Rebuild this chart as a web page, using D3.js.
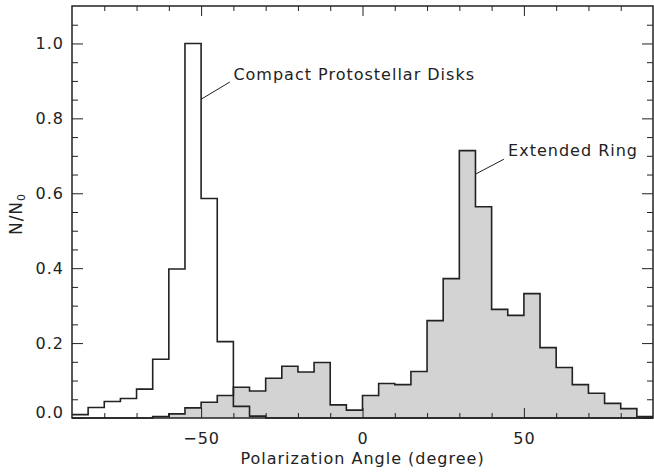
<!DOCTYPE html>
<html>
<head>
<meta charset="utf-8">
<script src="https://cdn.jsdelivr.net/npm/d3@7"></script>
<style>
  body { margin: 0; background: #fff; }
  text { font-family: "DejaVu Sans", sans-serif; fill: #222; letter-spacing: 1px; }
</style>
</head>
<body>
<svg id="chart" width="654" height="473"></svg>
<script>
// Histogram bins: left edge of each 5-degree bin
const binStarts = [-90, -85, -80, -75, -70, -65, -60, -55, -50, -45, -40, -35,
                   -30, -25, -20, -15, -10, -5, 0, 5, 10, 15, 20, 25,
                   30, 35, 40, 45, 50, 55, 60, 65, 70, 75, 80, 85];
const binWidth = 5;

// Normalised counts N/N0 per bin
const compactDisks = [0.009, 0.028, 0.044, 0.052, 0.077, 0.157, 0.398, 1.000, 0.586, 0.204, 0.031, 0.005,
                      0, 0, 0, 0, 0, 0, 0, 0, 0, 0, 0, 0,
                      0, 0, 0, 0, 0, 0, 0, 0, 0, 0, 0, 0];
const extendedRing = [0, 0, 0, 0, 0, 0.004, 0.011, 0.027, 0.042, 0.060, 0.082, 0.072,
                      0.106, 0.138, 0.123, 0.148, 0.035, 0.021, 0.060, 0.092, 0.089, 0.124, 0.260, 0.372,
                      0.714, 0.564, 0.290, 0.274, 0.332, 0.188, 0.135, 0.089, 0.066, 0.039, 0.025, 0.004];

// Axis ticks
const xMajorTicks = [-50, 0, 50];
const xMinorTicks = [-80, -70, -60, -40, -30, -20, -10, 10, 20, 30, 40, 60, 70, 80];
const yMajorTicks = [0.0, 0.2, 0.4, 0.6, 0.8, 1.0];
const yMinorTicks = [0.05, 0.1, 0.15, 0.25, 0.3, 0.35, 0.45, 0.5, 0.55, 0.65, 0.7, 0.75, 0.85, 0.9, 0.95, 1.05];

const xDomain = [-90, 90];
const yDomain = [0, 1.1];

const svg = d3.select("#chart");
const W = 654, H = 473;
const margin = { left: 72, right: 1, top: 6, bottom: 55 };

const x = d3.scaleLinear().domain(xDomain).range([margin.left, W - margin.right]);
const y = d3.scaleLinear().domain(yDomain).range([H - margin.bottom, margin.top]);

const ink = "#222";

// Step outline of a histogram
function stepPoints(values) {
  const pts = [];
  binStarts.forEach((b, i) => {
    pts.push([b, values[i]]);
    pts.push([b + binWidth, values[i]]);
  });
  return pts;
}
const line = d3.line().x(d => x(d[0])).y(d => y(d[1]));

// Extended ring: filled grey histogram
const ringPts = stepPoints(extendedRing);
const ringArea = [[binStarts[0], 0], ...ringPts, [binStarts[binStarts.length - 1] + binWidth, 0]];
svg.append("path")
  .attr("d", line(ringArea) + "Z")
  .attr("fill", "#d3d3d3")
  .attr("stroke", "none");
svg.append("path")
  .attr("d", line(ringPts))
  .attr("fill", "none")
  .attr("stroke", ink)
  .attr("stroke-width", 1.6);

// Compact protostellar disks: open histogram
svg.append("path")
  .attr("d", line(stepPoints(compactDisks)))
  .attr("fill", "none")
  .attr("stroke", ink)
  .attr("stroke-width", 1.6);

// Axes (ticks point inward on all four sides)
function styleAxis(g) {
  g.select(".domain").remove();
  g.selectAll(".tick line").attr("stroke", ink).attr("stroke-width", 1);
  g.selectAll("text").attr("font-size", 16).attr("fill", ink)
    .style("font-family", '"DejaVu Sans", sans-serif');
}
const fmtX = d => (d < 0 ? "\u2212" + Math.abs(d) : String(d));

svg.append("g").attr("transform", `translate(0,${y(0)})`)
  .call(d3.axisBottom(x).tickValues(xMajorTicks).tickSize(-10).tickPadding(15).tickFormat(fmtX))
  .call(styleAxis);
svg.append("g").attr("transform", `translate(0,${y(0)})`)
  .call(d3.axisBottom(x).tickValues(xMinorTicks).tickSize(-5).tickFormat(""))
  .call(styleAxis);
svg.append("g").attr("transform", `translate(0,${y(1.1)})`)
  .call(d3.axisTop(x).tickValues(xMajorTicks).tickSize(-10).tickFormat(""))
  .call(styleAxis);
svg.append("g").attr("transform", `translate(0,${y(1.1)})`)
  .call(d3.axisTop(x).tickValues(xMinorTicks).tickSize(-5).tickFormat(""))
  .call(styleAxis);

const yAxisG = svg.append("g").attr("transform", `translate(${x(-90)},0)`)
  .call(d3.axisLeft(y).tickValues(yMajorTicks).tickSize(-11).tickPadding(8).tickFormat(d3.format(".1f")))
  .call(styleAxis);
// keep the lowest label clear of the x axis
yAxisG.selectAll(".tick text").filter(d => d === 0).attr("dy", "-0.05em");

svg.append("g").attr("transform", `translate(${x(-90)},0)`)
  .call(d3.axisLeft(y).tickValues(yMinorTicks).tickSize(-6).tickFormat(""))
  .call(styleAxis);
svg.append("g").attr("transform", `translate(${x(90)},0)`)
  .call(d3.axisRight(y).tickValues(yMajorTicks).tickSize(-11).tickFormat(""))
  .call(styleAxis);
svg.append("g").attr("transform", `translate(${x(90)},0)`)
  .call(d3.axisRight(y).tickValues(yMinorTicks).tickSize(-6).tickFormat(""))
  .call(styleAxis);

// Plot frame
svg.append("rect")
  .attr("x", x(-90)).attr("y", y(1.1))
  .attr("width", x(90) - x(-90)).attr("height", y(0) - y(1.1))
  .attr("fill", "none").attr("stroke", ink).attr("stroke-width", 1.5);

// Annotations with leader lines
const notes = [
  { text: "Compact Protostellar Disks", from: [-50, 0.851], to: [-41.1, 0.897], at: [-40, 0.902] },
  { text: "Extended Ring", from: [35, 0.651], to: [43.8, 0.691], at: [45.1, 0.699] }
];
notes.forEach(n => {
  svg.append("line")
    .attr("x1", x(n.from[0])).attr("y1", y(n.from[1]))
    .attr("x2", x(n.to[0])).attr("y2", y(n.to[1]))
    .attr("stroke", ink).attr("stroke-width", 1);
  svg.append("text")
    .attr("x", x(n.at[0])).attr("y", y(n.at[1]))
    .attr("font-size", 16)
    .text(n.text);
});

// Axis titles
svg.append("text")
  .attr("x", (x(-90) + x(90)) / 2).attr("y", 464)
  .attr("text-anchor", "middle").attr("font-size", 16)
  .text("Polarization Angle (degree)");

const yTitle = svg.append("text")
  .attr("transform", "translate(22,214) rotate(-90)")
  .attr("text-anchor", "middle").attr("font-size", 17);
yTitle.append("tspan").text("N/N");
yTitle.append("tspan").attr("font-size", 11).attr("dy", "0.25em").text("0");
</script>
</body>
</html>
